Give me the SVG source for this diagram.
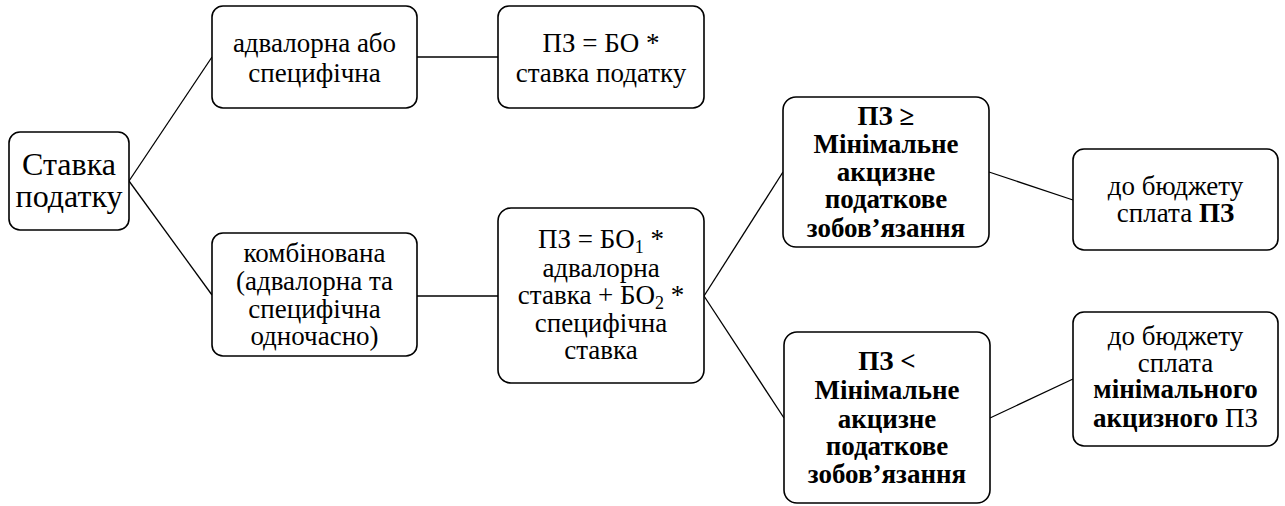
<svg xmlns="http://www.w3.org/2000/svg" width="1285" height="506" viewBox="0 0 1285 506">
<rect width="1285" height="506" fill="#fff"/>
<g id="connectors" stroke="#000" stroke-width="1.3">
<line x1="129" y1="181" x2="212" y2="57"/>
<line x1="129" y1="181" x2="212" y2="295"/>
<line x1="417" y1="57" x2="498" y2="57"/>
<line x1="417" y1="296" x2="498" y2="296"/>
<line x1="704" y1="296" x2="783" y2="172"/>
<line x1="704" y1="296" x2="784" y2="418"/>
<line x1="989" y1="172" x2="1073" y2="200"/>
<line x1="990" y1="418" x2="1073" y2="379"/>
</g>
<g id="n_stavka">
<rect x="9" y="132" width="120" height="98" rx="11" fill="#fff" stroke="#000" stroke-width="1.6"/>
<text x="69" y="175" font-family="Liberation Serif" font-size="32" text-anchor="middle">Ставка</text>
<text x="69" y="207" font-family="Liberation Serif" font-size="32" text-anchor="middle">податку</text>
</g>
<g id="n_advalorna">
<rect x="212" y="6" width="205" height="102" rx="11" fill="#fff" stroke="#000" stroke-width="1.6"/>
<text x="314.5" y="52" font-family="Liberation Serif" font-size="27" text-anchor="middle">адвалорна або</text>
<text x="314.5" y="82" font-family="Liberation Serif" font-size="27" text-anchor="middle">специфічна</text>
</g>
<g id="n_formula1">
<rect x="498" y="6" width="206" height="102" rx="11" fill="#fff" stroke="#000" stroke-width="1.6"/>
<text x="601" y="52" font-family="Liberation Serif" font-size="27" text-anchor="middle">ПЗ = БО *</text>
<text x="601" y="82" font-family="Liberation Serif" font-size="27" text-anchor="middle">ставка податку</text>
</g>
<g id="n_kombinovana">
<rect x="212" y="233" width="205" height="123" rx="11" fill="#fff" stroke="#000" stroke-width="1.6"/>
<text x="314.5" y="262" font-family="Liberation Serif" font-size="27" text-anchor="middle">комбінована</text>
<text x="314.5" y="290" font-family="Liberation Serif" font-size="27" text-anchor="middle">(адвалорна та</text>
<text x="314.5" y="318" font-family="Liberation Serif" font-size="27" text-anchor="middle">специфічна</text>
<text x="314.5" y="345" font-family="Liberation Serif" font-size="27" text-anchor="middle">одночасно)</text>
</g>
<g id="n_formula2">
<rect x="498" y="208" width="206" height="175" rx="13" fill="#fff" stroke="#000" stroke-width="1.6"/>
<text x="601" y="248" font-family="Liberation Serif" font-size="27" text-anchor="middle">ПЗ = БО<tspan font-size="18" baseline-shift="-25%">1</tspan> *</text>
<text x="601" y="277" font-family="Liberation Serif" font-size="27" text-anchor="middle">адвалорна</text>
<text x="601" y="304" font-family="Liberation Serif" font-size="27" text-anchor="middle">ставка + БО<tspan font-size="18" baseline-shift="-25%">2</tspan> *</text>
<text x="601" y="332" font-family="Liberation Serif" font-size="27" text-anchor="middle">специфічна</text>
<text x="601" y="359" font-family="Liberation Serif" font-size="27" text-anchor="middle">ставка</text>
</g>
<g id="n_ge">
<rect x="783" y="97" width="206" height="150" rx="13" fill="#fff" stroke="#000" stroke-width="1.6"/>
<text x="886" y="125" font-family="Liberation Serif" font-size="27" font-weight="bold" text-anchor="middle">ПЗ ≥</text>
<text x="886" y="153" font-family="Liberation Serif" font-size="27" font-weight="bold" text-anchor="middle">Мінімальне</text>
<text x="886" y="181" font-family="Liberation Serif" font-size="27" font-weight="bold" text-anchor="middle">акцизне</text>
<text x="886" y="208" font-family="Liberation Serif" font-size="27" font-weight="bold" text-anchor="middle">податкове</text>
<text x="886" y="237" font-family="Liberation Serif" font-size="27" font-weight="bold" text-anchor="middle">зобов’язання</text>
</g>
<g id="n_lt">
<rect x="784" y="332" width="206" height="171" rx="13" fill="#fff" stroke="#000" stroke-width="1.6"/>
<text x="887" y="370" font-family="Liberation Serif" font-size="27" font-weight="bold" text-anchor="middle">ПЗ &lt;</text>
<text x="887" y="399" font-family="Liberation Serif" font-size="27" font-weight="bold" text-anchor="middle">Мінімальне</text>
<text x="887" y="428" font-family="Liberation Serif" font-size="27" font-weight="bold" text-anchor="middle">акцизне</text>
<text x="887" y="455" font-family="Liberation Serif" font-size="27" font-weight="bold" text-anchor="middle">податкове</text>
<text x="887" y="483" font-family="Liberation Serif" font-size="27" font-weight="bold" text-anchor="middle">зобов’язання</text>
</g>
<g id="n_pay1">
<rect x="1073" y="149" width="205" height="101" rx="11" fill="#fff" stroke="#000" stroke-width="1.6"/>
<text x="1175.5" y="195" font-family="Liberation Serif" font-size="27" text-anchor="middle">до бюджету</text>
<text x="1175.5" y="222" font-family="Liberation Serif" font-size="27" text-anchor="middle">сплата <tspan font-weight="bold">ПЗ</tspan></text>
</g>
<g id="n_pay2">
<rect x="1073" y="312" width="205" height="134" rx="11" fill="#fff" stroke="#000" stroke-width="1.6"/>
<text x="1175.5" y="345" font-family="Liberation Serif" font-size="27" text-anchor="middle">до бюджету</text>
<text x="1175.5" y="372" font-family="Liberation Serif" font-size="27" text-anchor="middle">сплата</text>
<text x="1175.5" y="398" font-family="Liberation Serif" font-size="27" font-weight="bold" text-anchor="middle">мінімального</text>
<text x="1175.5" y="427" font-family="Liberation Serif" font-size="27" text-anchor="middle"><tspan font-weight="bold">акцизного</tspan> ПЗ</text>
</g>
</svg>
